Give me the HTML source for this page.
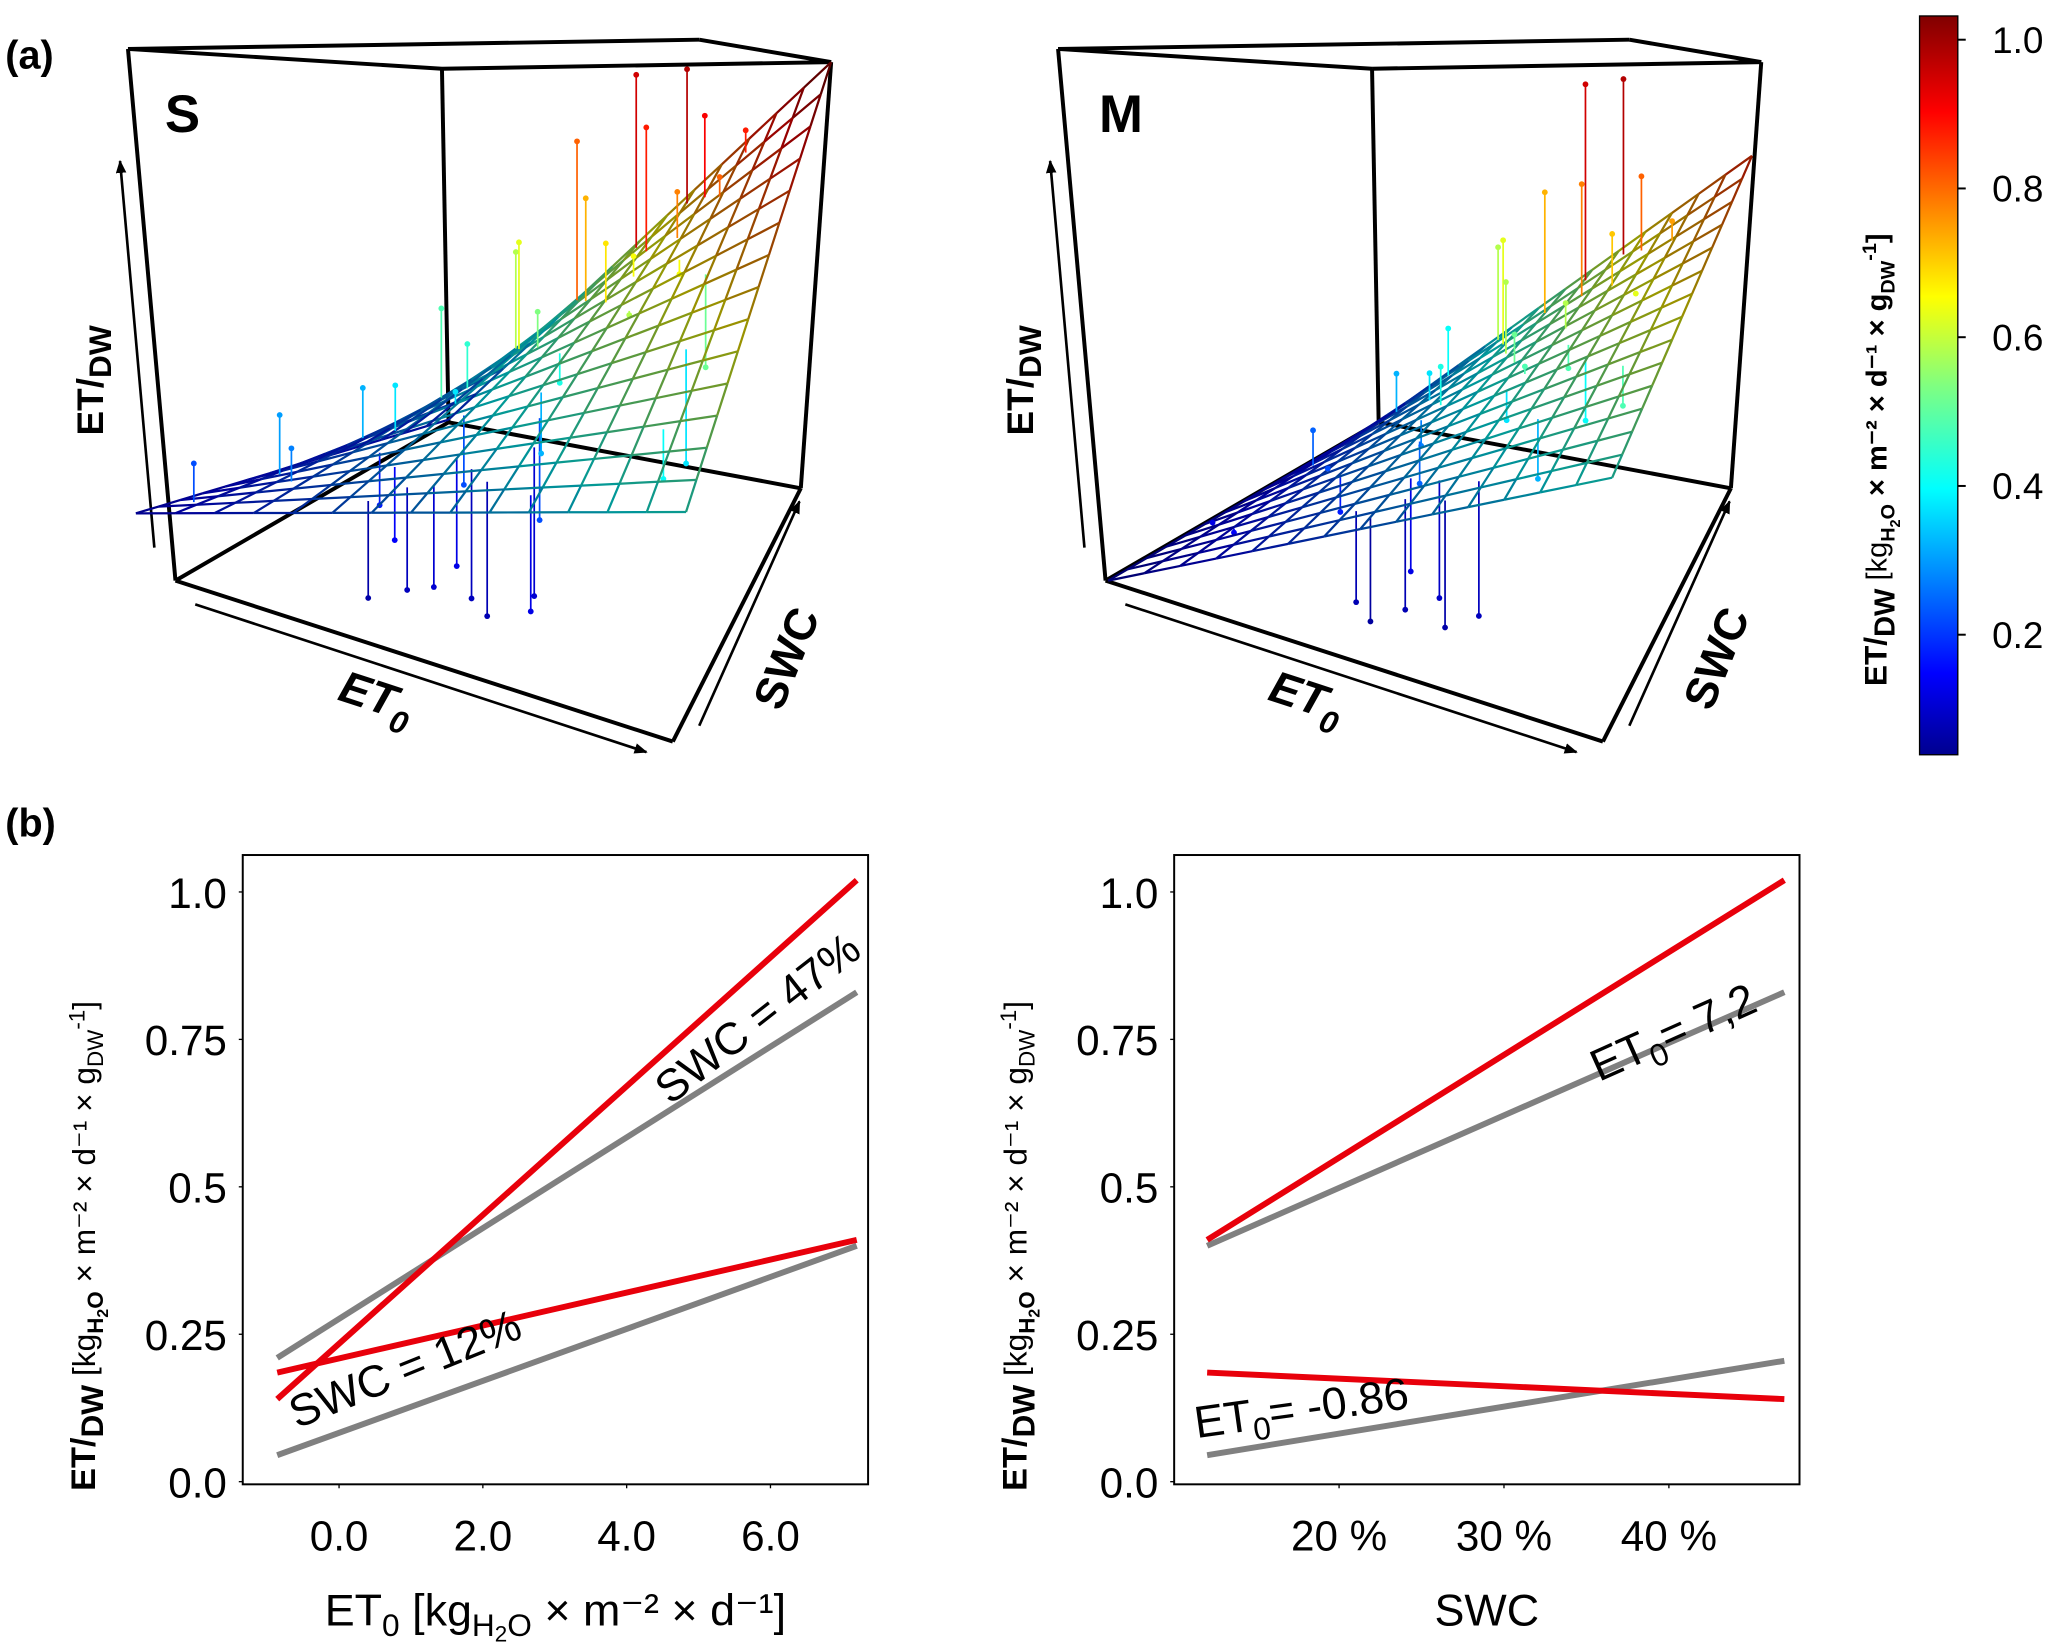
<!DOCTYPE html>
<html><head><meta charset="utf-8"><style>
html,body{margin:0;padding:0;background:#fff;}
svg{display:block;font-family:"Liberation Sans",Arial,sans-serif;}
</style></head><body>
<svg id="fig" width="2066" height="1652" viewBox="0 0 1566 1252" xmlns="http://www.w3.org/2000/svg">
<defs>
<linearGradient id="jetg" x1="0" y1="1" x2="0" y2="0">
<stop offset="0" stop-color="#00008f"/><stop offset="0.11" stop-color="#0000ff"/><stop offset="0.36" stop-color="#00ffff"/><stop offset="0.5" stop-color="#80ff80"/><stop offset="0.62" stop-color="#ffff00"/><stop offset="0.87" stop-color="#ff0000"/><stop offset="1" stop-color="#800000"/>
</linearGradient>
<marker id="arr" markerWidth="10" markerHeight="8" refX="9" refY="4" orient="auto" markerUnits="userSpaceOnUse"><path d="M0,0 L10,4 L0,8 z" fill="#000"/></marker>
</defs>
<text x="4" y="52" font-size="30" font-weight="bold">(a)</text>
<text x="4" y="634" font-size="30" font-weight="bold">(b)</text>
<g id="p3s"></g>
<g id="p3m"></g>
<g id="cbar">
<rect x="1455" y="12" width="29" height="560" fill="url(#jetg)" stroke="#000" stroke-width="1"/>
<text transform="translate(1430,520) rotate(-90)" font-size="24" font-weight="bold">ET/<tspan font-size="22" dy="6">DW</tspan><tspan dy="-6" font-weight="normal" font-size="22">  [kg</tspan><tspan font-size="15" dy="6">H</tspan><tspan font-size="11" dy="4">2</tspan><tspan font-size="15" dy="-4">O</tspan><tspan font-size="22" dy="-6"> × m⁻² × d⁻¹ × g</tspan><tspan font-size="15" dy="6">DW</tspan><tspan font-size="15" dy="-14">-1</tspan><tspan font-size="22" dy="8">]</tspan></text>
</g>
<g id="p2l"></g>
<g id="p2r"></g>
</svg>
<script>
// ---------- data ----------
const cbTicks=[0.2,0.4,0.6,0.8,1.0];
const cbTickLabels=["0.2","0.4","0.6","0.8","1.0"];
// 3D S panel: surface corner values (ET0 min/max × SWC min/max)
const sCornerVals=[0.10,0.40,0.15,1.0]; // A(u0w0), D(u1w0), B(u0w1), C(u1w1)
const sU=[0.05,0.10,0.12,0.18,0.20,0.25,0.28,0.30,0.32,0.35,0.38,0.40,0.42,0.45,0.48,0.50,0.52,0.55,0.58,0.60,0.62,0.65,0.68,0.70,0.72,0.75,0.78,0.80,0.85,0.88,0.90,0.55,0.60,0.65,0.70,0.40,0.45,0.50,0.35,0.58,0.62];
const sW=[0.10,0.30,0.55,0.20,0.70,0.45,0.85,0.30,0.60,0.75,0.20,0.90,0.40,0.65,0.80,0.10,0.95,0.55,0.70,0.85,0.30,0.95,0.60,0.80,0.90,0.70,0.85,0.95,0.60,0.40,0.20,0.15,0.10,0.20,0.05,0.05,0.10,0.20,0.50,0.40,0.75];
const sObs=[0.20,0.28,0.30,0.25,0.45,0.35,0.55,0.15,0.42,0.60,0.12,0.78,0.20,0.50,0.70,0.08,0.92,0.40,0.65,0.85,0.20,0.95,0.55,0.75,0.88,0.62,0.78,0.85,0.48,0.35,0.38,0.06,0.05,0.08,0.10,0.04,0.06,0.10,0.35,0.30,0.62];
// 3D M panel
const mCornerVals=[0.05,0.40,0.12,0.85];
const mU=[0.05,0.10,0.15,0.18,0.22,0.25,0.30,0.32,0.35,0.38,0.42,0.45,0.48,0.50,0.52,0.55,0.58,0.60,0.62,0.65,0.68,0.70,0.72,0.75,0.78,0.82,0.85,0.90,0.55,0.60,0.65,0.70,0.45,0.50,0.75,0.40,0.62];
const mW=[0.30,0.60,0.20,0.80,0.45,0.90,0.35,0.70,0.95,0.55,0.85,0.40,0.75,0.90,0.20,0.65,0.95,0.50,0.85,0.70,0.95,0.60,0.80,0.90,0.50,0.70,0.85,0.40,0.10,0.15,0.05,0.10,0.10,0.05,0.30,0.60,0.55];
const mObs=[0.10,0.22,0.12,0.30,0.20,0.38,0.15,0.35,0.55,0.25,0.60,0.22,0.55,0.70,0.10,0.48,0.92,0.35,0.75,0.55,0.95,0.45,0.68,0.78,0.38,0.60,0.72,0.45,0.05,0.07,0.04,0.06,0.05,0.03,0.30,0.40,0.45];
// 2D plots
const yTicks=[0.0,0.25,0.5,0.75,1.0];
const yTickLabels=["0.0","0.25","0.5","0.75","1.0"];
const xTicksL=[0,2,4,6];
const xTickLabelsL=["0.0","2.0","4.0","6.0"];
const xTicksR=[20,30,40];
const xTickLabelsR=["20 %","30 %","40 %"];
const et0Range=[-0.86,7.2];
const swcRange=[12,47];
const lRed47=[0.14,1.02], lGray47=[0.21,0.83], lRed12=[0.185,0.41], lGray12=[0.045,0.40];
const rRed72=[0.41,1.02], rGray72=[0.40,0.83], rRedN=[0.185,0.14], rGrayN=[0.045,0.205];

const NS="http://www.w3.org/2000/svg";
function mk(p,tag,at){const e=document.createElementNS(NS,tag);for(const k in at)e.setAttribute(k,at[k]);p.appendChild(e);return e;}
function jet(v){v=Math.max(0,Math.min(1,v));
 const r=Math.max(0,Math.min(1,1.5-Math.abs(4*v-3))),g=Math.max(0,Math.min(1,1.5-Math.abs(4*v-2))),b=Math.max(0,Math.min(1,1.5-Math.abs(4*v-1)));
 return `rgb(${Math.round(r*255)},${Math.round(g*255)},${Math.round(b*255)})`;}
function dark(v){const c=jet(v).match(/\d+/g).map(n=>Math.round(n*0.6));return `rgb(${c[0]},${c[1]},${c[2]})`;}

const cb=document.getElementById('cbar');
function cbY(v){return 30+(1-v)*(481-30)/0.8;}
cbTicks.forEach((t,i)=>{const y=cbY(t);
 let l=mk(cb,'line',{x1:1484,y1:y,x2:1490,y2:y,stroke:'#000','stroke-width':1.5});
 
 
 let tx=mk(cb,'text',{x:1510,y:y+10,'font-size':28});tx.textContent=cbTickLabels[i];
 
 
});

function draw3d(gid,off,corners,cv,U,W,O,label,lblPos){
 const g=document.getElementById(gid);
 const [A,D,B,C]=corners;
 const P=(u,w)=>[A[0]*(1-u)*(1-w)+D[0]*u*(1-w)+B[0]*(1-u)*w+C[0]*u*w, A[1]*(1-u)*(1-w)+D[1]*u*(1-w)+B[1]*(1-u)*w+C[1]*u*w];
 const V=(u,w)=>cv[0]*(1-u)*(1-w)+cv[1]*u*(1-w)+cv[2]*(1-u)*w+cv[3]*u*w;
 const o=off;
 const bx=[[97,37,335,52],[335,52,630,47],[97,37,530,30],[530,30,630,47],[97,37,133,440],[335,52,340,320],[630,47,607,370],[133,440,340,320],[340,320,607,370],[133,440,510,562],[510,562,607,370]];
 bx.forEach(b=>{const l=mk(g,'line',{x1:b[0]+o,y1:b[1],x2:b[2]+o,y2:b[3],stroke:'#000','stroke-width':3});
  
  });
 const ar=[[148,458,490,570,'et0-arrow'],[530,550,606,380,'swc-arrow'],[117,415,91,122,'et-dw-arrow']];
 ar.forEach(a=>{const l=mk(g,'line',{x1:a[0]+o,y1:a[1],x2:a[2]+o,y2:a[3],stroke:'#000','stroke-width':2,'marker-end':'url(#arr)'});
  
  });
 let t=mk(g,'text',{x:lblPos[0]+o,y:lblPos[1],'font-size':40,'font-weight':'bold'});t.textContent=label;
 
 
 t=mk(g,'text',{transform:`translate(${255+o},530) rotate(18)`,'font-size':34,'font-weight':'bold','font-style':'italic'});
 t.innerHTML='ET<tspan font-size="24" dy="10">0</tspan>';
 
 
 t=mk(g,'text',{transform:`translate(${592+o},540) rotate(-68)`,'font-size':34,'font-weight':'bold'});t.textContent='SWC';
 
 
 t=mk(g,'text',{transform:`translate(${78+o},330) rotate(-90)`,'font-size':28,'font-weight':'bold'});
 t.innerHTML='ET/<tspan font-size="24" dy="6">DW</tspan>';
 
 
 const N=14;
 const drawStems=(neg)=>{U.forEach((u,i)=>{const w=W[i];const fit=V(u,w);const r=O[i]-fit;if((r<0)!==neg)return;
  const p=P(u,w);const x=p[0]+o;const yt=p[1]-r*380;
  const l=mk(g,'line',{x1:x,y1:p[1],x2:x,y2:yt,stroke:jet(O[i]),'stroke-width':1.3});
  
  
  const c=mk(g,'circle',{cx:x,cy:yt,r:2.2,fill:jet(O[i])});
  
  });};
 drawStems(true);
 for(let k=0;k<=N;k++){for(let j=0;j<N;j++){
  const a=k/N,b1=j/N,b2=(j+1)/N;
  let p1=P(a,b1),p2=P(a,b2);
  let l=mk(g,'line',{x1:p1[0]+o,y1:p1[1],x2:p2[0]+o,y2:p2[1],stroke:dark(V(a,(b1+b2)/2)),'stroke-width':1.7});
  
  
  p1=P(b1,a);p2=P(b2,a);
  l=mk(g,'line',{x1:p1[0]+o,y1:p1[1],x2:p2[0]+o,y2:p2[1],stroke:dark(V((b1+b2)/2,a)),'stroke-width':1.7});
  
  
 }}
 drawStems(false);
}
draw3d('p3s',0,[[103,389],[520,388],[340,318],[630,47]],sCornerVals,sU,sW,sObs,'S',[125,100]);
draw3d('p3m',705,[[135,440],[517,362],[340,320],[623,118]],mCornerVals,mU,mW,mObs,'M',[128,100]);

function draw2d(gid,x0,xr,ticks,tlabels,xmap,lines,labels,xtitle){
 const g=document.getElementById(gid);
 const Y=v=>1123-447*v;
 let r=mk(g,'rect',{x:x0,y:648,width:474,height:477,fill:'none',stroke:'#000','stroke-width':1.5});
 
 
 yTicks.forEach((t,i)=>{const y=Y(t);
  let l=mk(g,'line',{x1:x0-3,y1:y,x2:x0,y2:y,stroke:'#000'});
  
  
  let tx=mk(g,'text',{x:x0-12,y:y+12,'font-size':32,'text-anchor':'end'});tx.textContent=yTickLabels[i];
  
  
 });
 ticks.forEach((t,i)=>{const x=xmap(t);
  let l=mk(g,'line',{x1:x,y1:1125,x2:x,y2:1128,stroke:'#000'});
  
  
  let tx=mk(g,'text',{x:x,y:1175,'font-size':32,'text-anchor':'middle'});tx.textContent=tlabels[i];
  
  });
 lines.forEach(L=>{const l=mk(g,'line',{x1:xmap(xr[0]),y1:Y(L[0][0]),x2:xmap(xr[1]),y2:Y(L[0][1]),stroke:L[1],'stroke-width':4.5});
  
  });
 labels.forEach(Lb=>{const t=mk(g,'text',{transform:`translate(${Lb[0]},${Lb[1]}) rotate(${Lb[2]})`,'font-size':34});t.innerHTML=Lb[3];
  
  });
 let t=mk(g,'text',{x:x0+237,y:1232,'font-size':34,'text-anchor':'middle'});t.innerHTML=xtitle;
 
 
 t=mk(g,'text',{transform:`translate(${x0-112},1130) rotate(-90)`,'font-size':26,'font-weight':'bold'});
 t.innerHTML='ET/<tspan font-size="24" dy="6">DW</tspan><tspan dy="-6" font-weight="normal" font-size="24">    [kg</tspan><tspan font-size="17" dy="6">H</tspan><tspan font-size="12" dy="4">2</tspan><tspan font-size="17" dy="-4">O</tspan><tspan font-size="24" font-weight="normal" dy="-6"> × m⁻² × d⁻¹ × g</tspan><tspan font-size="17" font-weight="normal" dy="6">DW</tspan><tspan font-size="17" font-weight="normal" dy="-14">-1</tspan><tspan font-size="24" font-weight="normal" dy="8">]</tspan>';
 
 
}
draw2d('p2l',184,et0Range,xTicksL,xTickLabelsL,v=>257+54.5*v,
 [[lGray47,'#808080','gray-line-swc47'],[lGray12,'#808080','gray-line-swc12'],[lRed47,'#e8000b','red-line-swc47'],[lRed12,'#e8000b','red-line-swc12']],
 [[225,1083,-22,'SWC = 12%','label-swc12'],[508,838,-38,'SWC = 47%','label-swc47']],
 'ET<tspan font-size="24" dy="8">0</tspan><tspan dy="-8"> [kg</tspan><tspan font-size="24" dy="8">H</tspan><tspan font-size="17" dy="4">2</tspan><tspan font-size="24" dy="-4">O</tspan><tspan dy="-8"> × m⁻² × d⁻¹]</tspan>');
draw2d('p2r',890,swcRange,xTicksR,xTickLabelsR,v=>1015+12.5*(v-20),
 [[rGray72,'#808080','gray-line-et072'],[rGrayN,'#808080','gray-line-et0neg'],[rRed72,'#e8000b','red-line-et072'],[rRedN,'#e8000b','red-line-et0neg']],
 [[907,1090,-8,'ET<tspan font-size="24" dy="8">0</tspan><tspan dy="-8">= -0.86</tspan>','label-et0-neg'],[1212,820,-24,'ET<tspan font-size="24" dy="8">0</tspan><tspan dy="-8">= 7,2</tspan>','label-et0-72']],
 'SWC');
</script>
</body></html>
